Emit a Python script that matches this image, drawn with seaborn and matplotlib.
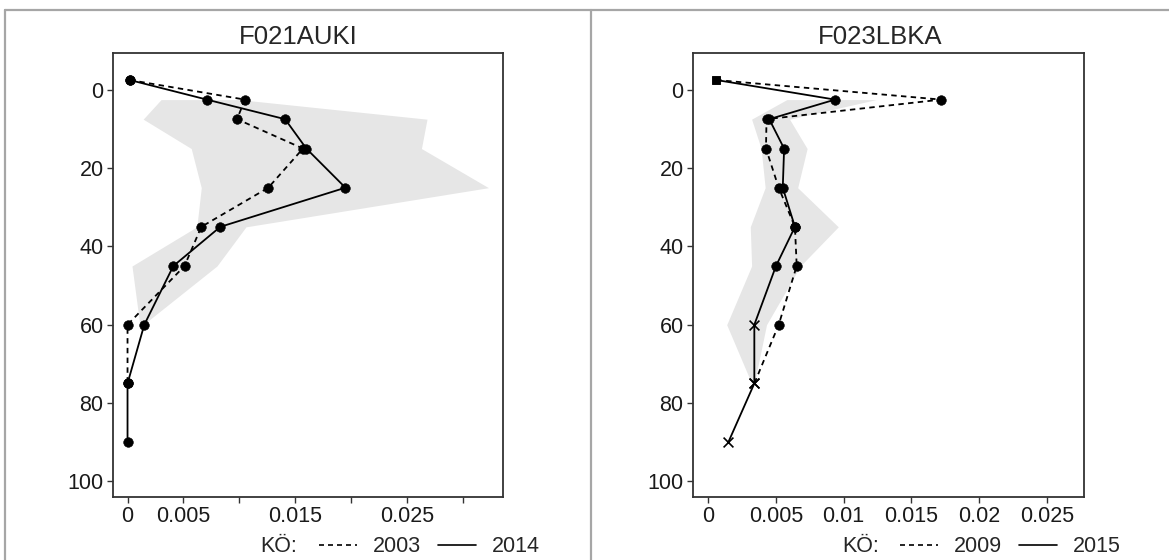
import pandas as pd
import seaborn as sns
import matplotlib.pyplot as plt
from matplotlib.lines import Line2D

# -----------------------------
# Data
# -----------------------------
depth = [-2.5, 2.5, 7.5, 15, 25, 35, 45, 60, 75, 90]

# F021AUKI
auki_2003 = [0.0002, 0.0105, 0.0098, 0.0157, 0.0126, 0.0066, 0.0051, 0.0, 0.0]
auki_2014 = [0.0002, 0.0071, 0.0141, 0.0160, 0.0195, 0.0083, 0.0041, 0.0015, 0.0, 0.0]
auki_2003_marker = ['o'] * 9
auki_2014_marker = ['o'] * 10
auki_band_depth = [2.5, 7.5, 15, 25, 35, 45, 60]
auki_band_lo = [0.0030, 0.0014, 0.0057, 0.0066, 0.0062, 0.0004, 0.0011]
auki_band_hi = [0.0100, 0.0268, 0.0263, 0.0323, 0.0106, 0.0080, 0.0014]

# F023LBKA
lbka_2009 = [0.0006, 0.0172, 0.0043, 0.00426, 0.0052, 0.0064, 0.00653, 0.0052, 0.0034]
lbka_2015 = [0.0006, 0.00936, 0.0045, 0.0056, 0.0055, 0.0064, 0.0050, 0.0034, 0.0034, 0.00148]
lbka_2009_marker = ['s', 'o', 'o', 'o', 'o', 'o', 'o', 'o', 'x']
lbka_2015_marker = ['s', 'o', 'o', 'o', 'o', 'o', 'o', 'x', 'x', 'x']
lbka_band_depth = [2.5, 7.5, 15, 25, 35, 45, 60, 75]
lbka_band_lo = [0.0058, 0.0032, 0.0039, 0.0042, 0.0031, 0.0032, 0.00136, 0.0032]
lbka_band_hi = [0.0124, 0.0060, 0.0073, 0.0066, 0.0096, 0.0068, 0.0043, 0.0034]

auki_xticks = [0, 0.005, 0.01, 0.015, 0.02, 0.025, 0.03]
auki_xlabels = ['0', '0.005', '', '0.015', '', '0.025', '']
lbka_xticks = [0, 0.005, 0.01, 0.015, 0.02, 0.025]
lbka_xlabels = ['0', '0.005', '0.01', '0.015', '0.02', '0.025']
yticks = [0, 20, 40, 60, 80, 100]

# -----------------------------
# Style
# -----------------------------
sns.set_style('white')
plt.rcParams['font.family'] = ['Liberation Sans', 'DejaVu Sans']
plt.rcParams['axes.edgecolor'] = '#333333'

W, H = 1169, 560
fig = plt.figure(figsize=(W / 100, H / 100), dpi=100)

DASH = (0, (3, 2.4))
TICK_FS = 15.5


def draw_series(ax, xs, markers, ls):
    df = pd.DataFrame({'x': xs, 'depth': depth[:len(xs)], 'marker': markers})
    sns.lineplot(data=df, x='x', y='depth', sort=False, estimator=None,
                 color='black', linewidth=1.3, linestyle=ls, ax=ax)
    for m, sub in df.groupby('marker'):
        if m == 'x':
            sns.scatterplot(data=sub, x='x', y='depth', marker='x', s=50,
                            color='black', linewidth=1.2, ax=ax, zorder=3)
        else:
            size = 40 if m == 's' else 48
            sns.scatterplot(data=sub, x='x', y='depth', marker=m, s=size,
                            color='black', edgecolor='black', linewidth=0.4,
                            ax=ax, zorder=3)


def draw_panel(rect, title, title_x, old, old_m, new, new_m, band_d, band_lo,
               band_hi, xlim, xticks, xlabels, years, kx, lx):
    ax = fig.add_axes(rect)
    ax.fill_betweenx(band_d, band_lo, band_hi, color='#e6e6e6', linewidth=0, zorder=0)
    draw_series(ax, old, old_m, DASH)
    draw_series(ax, new, new_m, '-')

    ax.set_xlim(*xlim)
    ax.set_ylim(104, -9.4)
    ax.set_xticks(xticks)
    ax.set_xticklabels(xlabels)
    ax.set_yticks(yticks)
    ax.set_xlabel('')
    ax.set_ylabel('')
    ax.tick_params(axis='both', which='both', direction='out', length=4.3,
                   width=1, color='#333333', labelsize=TICK_FS, pad=2.5,
                   bottom=True, left=True, labelcolor='#1a1a1a')
    for sp in ax.spines.values():
        sp.set_linewidth(1.3)
        sp.set_visible(True)

    fig.text(title_x / W, 1 - 37 / H, title, ha='center', va='center',
             fontsize=18.5)

    handles = [Line2D([], [], color='black', lw=1.2, linestyle=DASH),
               Line2D([], [], color='black', lw=1.2)]
    ax.legend(handles, years, ncol=2, frameon=False, loc='center left',
              bbox_to_anchor=(lx / W, 1 - 547 / H), bbox_transform=fig.transFigure,
              handlelength=1.75, handletextpad=0.75, columnspacing=0.8,
              borderpad=0, borderaxespad=0, fontsize=TICK_FS)
    fig.text(kx / W, 1 - 547 / H, 'KÖ:', ha='left', va='center', fontsize=TICK_FS)
    return ax


draw_panel([113 / W, 1 - 497 / H, 390 / W, 444 / H], 'F021AUKI', 298,
           auki_2003, auki_2003_marker, auki_2014, auki_2014_marker,
           auki_band_depth, auki_band_lo, auki_band_hi,
           (-0.0013, 0.0336), auki_xticks, auki_xlabels, ['2003', '2014'], 260, 319)

draw_panel([693 / W, 1 - 497 / H, 391 / W, 444 / H], 'F023LBKA', 880,
           lbka_2009, lbka_2009_marker, lbka_2015, lbka_2015_marker,
           lbka_band_depth, lbka_band_lo, lbka_band_hi,
           (-0.00113, 0.02775), lbka_xticks, lbka_xlabels, ['2009', '2015'], 842, 900)

# table grid lines around the two panels
grid = '#a6a6a6'
for xs, ys in [((5, W), (10, 10)), ((5, 5), (10, H)), ((590.5, 590.5), (10, H))]:
    fig.add_artist(Line2D([x / W for x in xs], [1 - y / H for y in ys],
                          transform=fig.transFigure, color=grid, lw=1.6))

fig.savefig('out.png', dpi=100)
